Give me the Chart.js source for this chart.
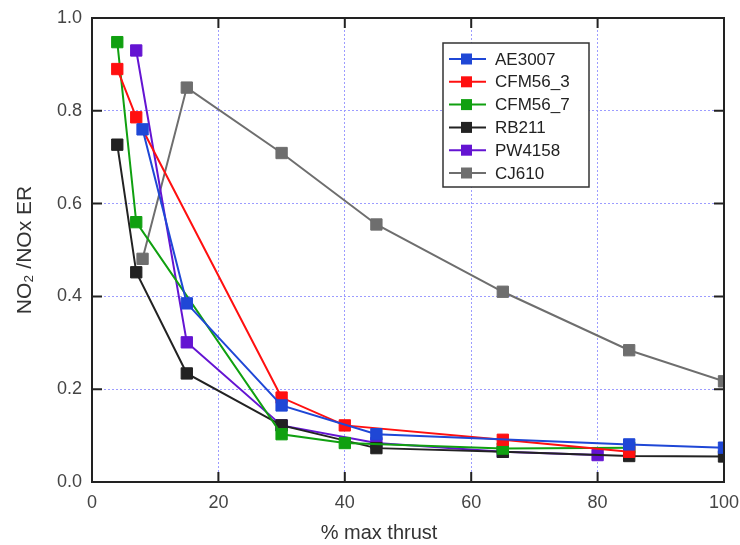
<!DOCTYPE html>
<html>
<head>
<meta charset="utf-8">
<script src="https://cdn.jsdelivr.net/npm/chart.js@4"></script>
<style>
  html, body { margin: 0; padding: 0; background: #fff; }
  #wrap { width: 740px; height: 545px; }
</style>
</head>
<body>
<div id="wrap"><canvas id="myChart" width="740" height="545"></canvas></div>
<script>
// thrust (%) and NO2/NOx ratio per engine
const ae3007X = [8, 15, 30, 45, 85, 100];
const ae3007Y = [0.76, 0.385, 0.165, 0.103, 0.081, 0.074];
const cfm563X = [4, 7, 30, 40, 65, 85];
const cfm563Y = [0.89, 0.786, 0.182, 0.122, 0.091, 0.065];
const cfm567X = [4, 7, 30, 40, 65, 85];
const cfm567Y = [0.948, 0.56, 0.103, 0.084, 0.072, 0.074];
const rb211X = [4, 7, 15, 30, 45, 65, 85, 100];
const rb211Y = [0.727, 0.452, 0.234, 0.122, 0.073, 0.065, 0.056, 0.055];
const pw4158X = [7, 15, 30, 45, 65, 80];
const pw4158Y = [0.93, 0.301, 0.122, 0.084, 0.065, 0.058];
const cj610X = [8, 15, 30, 45, 65, 85, 100];
const cj610Y = [0.481, 0.85, 0.709, 0.555, 0.41, 0.284, 0.217];

const xTicks = [0, 20, 40, 60, 80, 100];
const yTicks = [0, 0.2, 0.4, 0.6, 0.8, 1.0];

const pts = (xs, ys) => xs.map((x, i) => ({ x: x, y: ys[i] }));

function series(label, xs, ys, color) {
    return {
        label: label,
        data: pts(xs, ys),
        borderColor: color,
        backgroundColor: color,
        borderWidth: 2,
        pointStyle: 'rect',
        pointRadius: 8,
        pointHoverRadius: 8,
        pointBorderWidth: 1,
        pointBorderColor: color,
        tension: 0
    };
}

const datasets = [
    series('AE3007', ae3007X, ae3007Y, '#1f47d6'),
    series('CFM56_3', cfm563X, cfm563Y, '#ff1010'),
    series('CFM56_7', cfm567X, cfm567Y, '#10a010'),
    series('RB211', rb211X, rb211Y, '#222222'),
    series('PW4158', pw4158X, pw4158Y, '#6414d2'),
    series('CJ610', cj610X, cj610Y, '#6e6e6e')
];

const FONT = '"Liberation Sans", Arial, Helvetica, sans-serif';

// frame, inward ticks, x title and legend box
const frame = {
    id: 'frame',
    afterDatasetsDraw(chart) {
        const c = chart.ctx, a = chart.chartArea;
        const xs = chart.scales.x, ys = chart.scales.y;
        c.save();
        c.strokeStyle = '#222';
        c.lineWidth = 2;
        c.strokeRect(a.left, a.top, a.right - a.left, a.bottom - a.top);
        c.beginPath();
        xTicks.forEach(v => {
            const px = xs.getPixelForValue(v);
            c.moveTo(px, a.bottom); c.lineTo(px, a.bottom - 10);
            c.moveTo(px, a.top); c.lineTo(px, a.top + 10);
        });
        yTicks.forEach(v => {
            const py = ys.getPixelForValue(v);
            c.moveTo(a.left, py); c.lineTo(a.left + 10, py);
            c.moveTo(a.right, py); c.lineTo(a.right - 10, py);
        });
        c.stroke();

        c.fillStyle = '#333';
        c.font = '20px ' + FONT;
        c.textAlign = 'center';
        c.textBaseline = 'middle';
        c.fillText('% max thrust', 379, 533);

        // legend
        const bx = 443, by = 43, bw = 146, bh = 144;
        c.fillStyle = '#fff';
        c.fillRect(bx, by, bw, bh);
        c.lineWidth = 1.5;
        c.strokeStyle = '#333';
        c.strokeRect(bx, by, bw, bh);
        c.font = '17px ' + FONT;
        c.textAlign = 'left';
        chart.data.datasets.forEach((ds, i) => {
            const y = 59 + i * 22.8;
            c.strokeStyle = ds.borderColor;
            c.lineWidth = 2;
            c.beginPath();
            c.moveTo(449, y); c.lineTo(486, y);
            c.stroke();
            c.fillStyle = ds.borderColor;
            c.fillRect(461, y - 5.5, 11, 11);
            c.fillStyle = '#222';
            c.fillText(ds.label, 495, y + 1);
        });
        c.restore();
    }
};

const ctx = document.getElementById('myChart').getContext('2d');

const gridColor = edge => g => (g.tick && (g.tick.value === 0 || g.tick.value === edge)) ? 'rgba(0,0,0,0)' : '#9c9cff';

const config = {
    type: 'line',
    data: { datasets: datasets },
    options: {
        responsive: false,
        animation: false,
        layout: { padding: { top: 18, right: 16, left: 0, bottom: 0 } },
        plugins: {
            legend: { display: false },
            tooltip: { enabled: false }
        },
        scales: {
            x: {
                type: 'linear',
                min: 0,
                max: 100,
                afterFit: s => { s.height = 63; s.paddingLeft = 0; s.paddingRight = 0; },
                afterBuildTicks: s => { s.ticks = xTicks.map(v => ({ value: v })); },
                border: { display: false, dash: [2, 2] },
                grid: { drawTicks: false, color: gridColor(100), lineWidth: 1 },
                ticks: {
                    padding: 10,
                    color: '#444',
                    font: { family: FONT, size: 18 },
                    maxRotation: 0
                }
            },
            y: {
                min: 0,
                max: 1,
                afterFit: s => { s.width = 92; s.paddingTop = 0; s.paddingBottom = 0; },
                afterBuildTicks: s => { s.ticks = yTicks.map(v => ({ value: v })); },
                border: { display: false, dash: [2, 2] },
                grid: { drawTicks: false, color: gridColor(1), lineWidth: 1 },
                ticks: {
                    padding: 10,
                    color: '#444',
                    font: { family: FONT, size: 18 },
                    callback: v => v.toFixed(1)
                },
                title: {
                    display: true,
                    text: 'NO\u2082 /NOx ER',
                    color: '#333',
                    font: { family: FONT, size: 21 },
                    padding: { top: 13, bottom: 0 }
                }
            }
        }
    },
    plugins: [frame]
};

const myChart = new Chart(ctx, config);
</script>
</body>
</html>
